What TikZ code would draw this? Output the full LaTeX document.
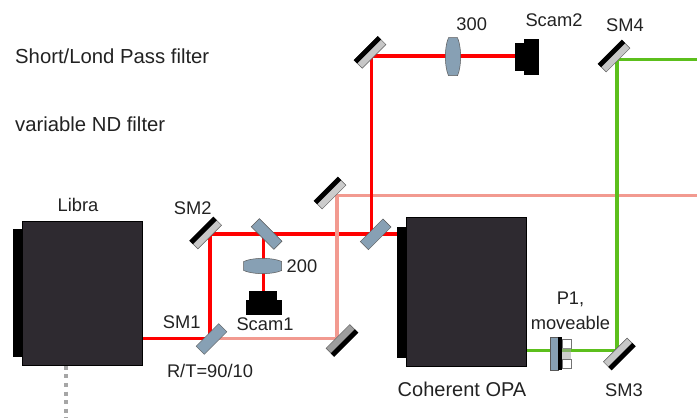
\documentclass[tikz,border=0pt]{standalone}
\usepackage{fontspec}
\setmainfont{Liberation Sans}
\usetikzlibrary{backgrounds,calc}
\definecolor{beamred}{HTML}{FF0000}
\definecolor{beampink}{HTML}{F29A90}
\definecolor{beamgreen}{HTML}{5CBF1C}
\definecolor{splitblue}{HTML}{87A0B4}
\definecolor{boxdark}{HTML}{2E2A30}
\definecolor{textdark}{HTML}{222222}
\tikzset{
  x=1pt,y=-1pt,
  lbl/.style={font=\fontsize{18.3}{20}\selectfont,text=textdark,inner sep=0pt},
  biglbl/.style={font=\fontsize{20.3}{22}\selectfont,text=textdark,inner sep=0pt,anchor=west},
  redbeam/.style={draw=beamred,line width=3.6pt},
  pinkbeam/.style={draw=beampink,line width=3.4pt},
  greenbeam/.style={draw=beamgreen,line width=3.3pt},
  splitter/.style={rectangle,draw=black!65,line width=.5pt,fill=splitblue,minimum width=32pt,minimum height=11.5pt,inner sep=0pt},
  mirrorbody/.style={rectangle,draw=black!65,line width=.5pt,fill=#1,minimum width=33.5pt,minimum height=11.5pt,inner sep=0pt},
  mirrorbody/.default={black!22},
  housing/.style={rectangle,fill=boxdark,draw=black,line width=1pt,inner sep=0pt},
  frontplate/.style={rectangle,fill=black,inner sep=0pt},
  lensbody/.style={fill=splitblue,draw=black!65,line width=.5pt},
}
\newcommand{\mirrornode}[4]{%
  \node[mirrorbody=#4,rotate=#3] (#1) at (#2) {};
  \fill[black] (#1.north west) -- (#1.north east) -- ($(#1.north east)!.4!(#1.south east)$) -- ($(#1.north west)!.4!(#1.south west)$) -- cycle;
}
\newcommand{\lensnode}[3]{%
  \node[rotate=#3,minimum width=38pt,minimum height=15pt,inner sep=0pt] (#1) at (#2) {};
  \filldraw[lensbody,shift={(#2)},rotate=#3] (-19,-4.5) .. controls (-10,-8.7) and (10,-8.7) .. (19,-4.5) -- (19,4.5) .. controls (10,8.7) and (-10,8.7) .. (-19,4.5) -- cycle;
}
\begin{document}
\begin{tikzpicture}
\useasboundingbox (0,0) rectangle (697,418);
% housings
\node[frontplate,minimum width=10.5pt,minimum height=127.5pt] (librafront) at (17.8,293) {};
\node[housing,minimum width=120pt,minimum height=144pt] (libra) at (82.2,293.2) {};
\node[frontplate,minimum width=11pt,minimum height=131pt] (opafront) at (402.8,292.2) {};
\node[housing,minimum width=120pt,minimum height=149pt] (opa) at (466.8,292.2) {};
% optics
\node[splitter,rotate=45] (bsa) at (211.5,339) {};
\node[splitter,rotate=-45] (bsb) at (266.7,234) {};
\node[splitter,rotate=45] (bsc) at (375.7,234.3) {};
\mirrornode{smtwo}{205.7,233}{45}{black!22}
\mirrornode{mirtop}{370,52.3}{45}{black!22}
\mirrornode{mirpink}{330,193}{45}{black!20}
\mirrornode{smfour}{614,56}{45}{black!22}
\mirrornode{mirlow}{342,340.5}{225}{black!38}
\mirrornode{smthree}{619.3,354}{225}{black!22}
\lensnode{lenstwo}{262.7,266}{0}
\lensnode{lensthree}{453,56.7}{90}
% cameras
\node[frontplate,minimum width=28pt,minimum height=10pt] (scamonetop) at (263.3,295.7) {};
\node[frontplate,minimum width=36pt,minimum height=15pt] (scamone) at (263.7,307.5) {};
\node[frontplate,minimum width=10pt,minimum height=27.5pt] (scamtwo) at (520,57) {};
\node[frontplate,minimum width=15pt,minimum height=36.5pt] (scamtwoback) at (531.8,56.8) {};
% P1
\node[rectangle,fill=splitblue,draw=black!65,line width=.4pt,minimum width=8.5pt,minimum height=32.5pt,inner sep=0pt] (ponebody) at (554.3,353.7) {};
\node[frontplate,minimum width=4pt,minimum height=32.5pt] (ponebar) at (560.3,353.7) {};
\node[rectangle,fill=white,draw=black!55,line width=.4pt,minimum width=8.4pt,minimum height=9pt,inner sep=0pt] (poneup) at (566.5,343.8) {};
\node[rectangle,fill=white,draw=black!55,line width=.4pt,minimum width=8.4pt,minimum height=9.3pt,inner sep=0pt] (ponedown) at (566.5,363.7) {};
\node[rectangle,fill=black!35,minimum width=8.4pt,minimum height=10.5pt,inner sep=0pt,opacity=.55] (ponemid) at (566.5,353.7) {};
% beam corners
\coordinate (kone) at (210,338.3);
\coordinate (ktwo) at (210,234);
\coordinate (kthree) at (263.3,234);
\coordinate (kfour) at (371.5,234);
\coordinate (kfive) at (371.5,56);
\coordinate (ksix) at (337,338.3);
\coordinate (kseven) at (337,195.7);
\coordinate (kpinkend) at (697,195.7);
\coordinate (keight) at (617,59.5);
\coordinate (kgreenend) at (697,59.5);
\coordinate (knine) at (617,350.7);
\coordinate (kdots) at (66,418);
\begin{scope}[on background layer]
  \draw[redbeam] (libra.east |- kone) -- (kone) -- (ktwo) -- (opafront.west |- ktwo);
  \draw[redbeam] (kthree) -- (scamonetop.north);
  \draw[pinkbeam] (kone) -- (ksix) -- (kseven) -- (kpinkend);
  \draw[redbeam] (kfour) -- (kfive) -- (scamtwo.west |- kfive);
  \draw[greenbeam] (kgreenend) -- (keight) -- (knine) -- (opa.east |- knine);
  \draw[black!35,line width=4pt,dash pattern=on 4pt off 4.6pt] (libra.south -| kdots) -- (kdots);
\end{scope}
% labels
\node[biglbl] (tshort) at (15,56.5) {Short/Lond Pass filter};
\node[biglbl] (tnd) at (15,124) {variable ND filter};
\node[lbl] (tlibra) at (78,205) {Libra};
\node[lbl] (tsmtwo) at (192.7,208.3) {SM2};
\node[lbl] (tsmone) at (181.7,322.3) {SM1};
\node[lbl] (trt) at (210,371) {R/T=90/10};
\node[lbl] (ttwohundred) at (302,266) {200};
\node[lbl] (tscamone) at (265,324) {Scam1};
\node[lbl] (tthreehundred) at (471.7,24) {300};
\node[lbl] (tscamtwo) at (554,20) {Scam2};
\node[lbl] (tsmfour) at (625,25) {SM4};
\node[lbl] (tpone) at (570.5,299.5) {P1,};
\node[lbl] (tmove) at (570.5,322.7) {moveable};
\node[lbl] (tsmthree) at (624,390) {SM3};
\node[lbl,font=\fontsize{20}{22}\selectfont] (tcoherent) at (462,389) {Coherent OPA};
\end{tikzpicture}
\end{document}
